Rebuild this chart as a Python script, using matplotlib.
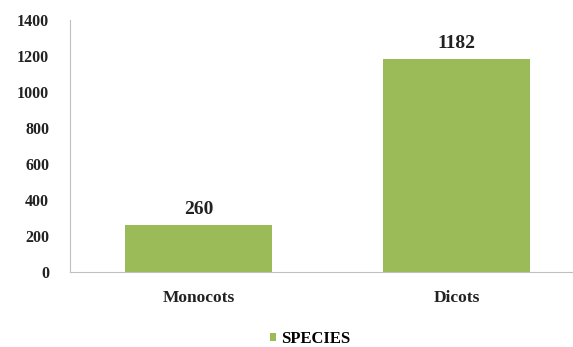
import matplotlib.pyplot as plt

categories = ['Monocots', 'Dicots']
species = [260, 1182]
yticks = [0, 200, 400, 600, 800, 1000, 1200, 1400]

plt.rcParams['font.family'] = ['Liberation Serif', 'DejaVu Serif']
plt.rcParams['font.weight'] = 'bold'

fig = plt.figure(figsize=(5.73, 3.47), dpi=100)
ax = fig.add_axes([70 / 573, 1 - 272 / 347, 1 - 70 / 573, (272 - 20) / 347])

x = list(range(len(categories)))
bars = ax.bar(x, species, width=0.57, color='#9BBB59', label='SPECIES')
for xi, v in zip(x, species):
    ax.text(xi, v + 40, str(v), ha='center', va='bottom', fontsize=14, fontweight='bold', color='#222222')

ax.set_xlim(-0.5, 1.45)
ax.set_ylim(0, 1400)
ax.set_yticks(yticks)
ax.set_xticks(x)
ax.set_xticklabels(categories)
ax.tick_params(length=0, labelsize=11.5, colors='#222222')
ax.tick_params(axis='x', pad=13, labelsize=12.5)
ax.tick_params(axis='y', pad=15)
for s in ['top', 'right']:
    ax.spines[s].set_visible(False)
ax.spines['left'].set_color('#bfbfbf')
ax.spines['bottom'].set_color('#bfbfbf')

fig.legend(handles=[bars], labels=['SPECIES'], loc='center', bbox_to_anchor=(310 / 573, 1 - 339 / 347),
           frameon=False, fontsize=12, handlelength=0.4, handleheight=0.4, handletextpad=0.3)

fig.savefig('out.png', dpi=100)
